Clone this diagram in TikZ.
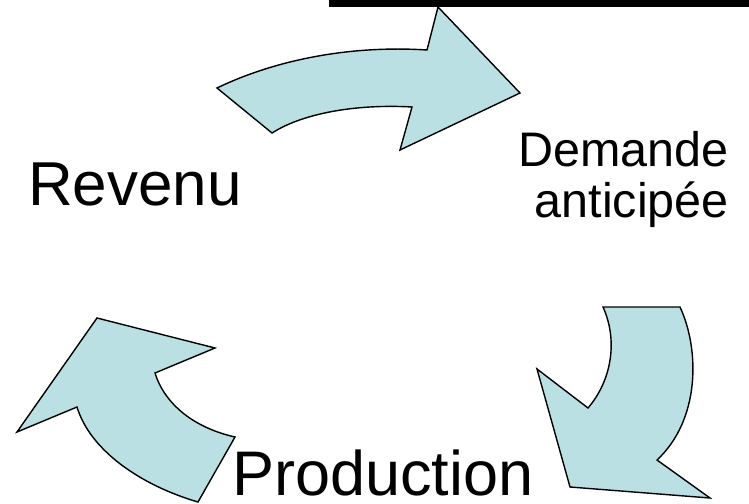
\documentclass[tikz,border=0pt]{standalone}
\usepackage{fontspec}
\setmainfont{Liberation Sans}
\usetikzlibrary{positioning}
\definecolor{arrowfill}{RGB}{186,224,227}
\tikzset{
  cycarrow/.style = {draw=black, fill=arrowfill, line width=1.4pt, line join=miter},
  bigtext/.style = {inner sep=0pt, font=\fontsize{62}{74}\selectfont},
  midtext/.style = {inner sep=0pt, align=right, font=\fontsize{48.5}{51}\selectfont}
}

\begin{document}
\begin{tikzpicture} [x=1pt, y=-1pt]
   \useasboundingbox (0,0) rectangle (749,503);
   \fill[black] (329,0) rectangle (749,7);

   % revenu -> demande
   \path[cycarrow] (217,88) .. controls (275,60) and (350,45) .. (427,50)
      -- (438,7) -- (520,93) -- (400,150) -- (412,107)
      .. controls (360,104) and (305,112) .. (272,133) -- cycle;
   % demande -> production
   \path[cycarrow] (603,307) -- (680,307) .. controls (700,350) and (700,420) .. (657,460)
      -- (710,498) -- (570,487) -- (537,369) -- (588,408)
      .. controls (612,380) and (618,340) .. cycle;
   % production -> revenu
   \path[cycarrow] (97,318) -- (215,348) -- (155,373)
      .. controls (165,405) and (195,428) .. (235,437) -- (198,502)
      .. controls (140,485) and (90,450) .. (77,407) -- (17,432) -- cycle;

   \node (rev)[bigtext, anchor=base west] at (28,205.7) {Revenu};
   \node (dem)[midtext, anchor=base east] at (729,217.5) {Demande\\anticipée};
   \node (prod)[bigtext, font=\fontsize{63}{74}\selectfont, anchor=base west] at (232,495.5) {Production};
\end{tikzpicture}
\end{document}
